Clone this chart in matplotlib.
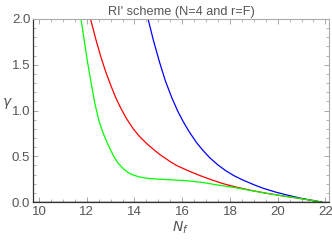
import numpy as np
import matplotlib
matplotlib.use("Agg")
import matplotlib.pyplot as plt
from matplotlib.ticker import MultipleLocator

# values
nf_green = [11.76, 11.9, 12.04, 12.2, 12.34, 12.5, 12.67, 12.83, 13.0, 13.11, 13.3, 13.53, 13.75, 13.95,
            14.2, 14.51, 15.0, 15.62, 16.2, 16.88, 17.5, 18.27, 18.9, 19.54, 20.2, 20.92, 21.4, 21.85]
g_green = [2.0, 1.76, 1.52, 1.28, 1.08, 0.9, 0.765, 0.665, 0.57, 0.51, 0.43, 0.365, 0.32, 0.295,
           0.275, 0.26, 0.25, 0.242, 0.233, 0.213, 0.186, 0.155, 0.125, 0.095, 0.068, 0.04, 0.02, 0.0]

nf_red = [12.16, 12.4, 12.6, 12.8, 13.0, 13.2, 13.4, 13.67, 13.95, 14.2, 14.51, 14.8, 15.06, 15.48,
          15.76, 16.3, 16.74, 17.15, 17.7, 18.27, 18.9, 19.54, 20.2, 20.92, 21.4, 21.85]
g_red = [2.0, 1.76, 1.58, 1.42, 1.28, 1.15, 1.04, 0.91, 0.8, 0.72, 0.64, 0.575, 0.52, 0.445,
         0.4, 0.337, 0.29, 0.25, 0.202, 0.163, 0.127, 0.096, 0.068, 0.04, 0.02, 0.0]

nf_blue = [14.57, 14.8, 15.06, 15.3, 15.55, 15.8, 16.04, 16.3, 16.6, 16.85, 17.15, 17.5, 17.85, 18.2,
           18.55, 19.0, 19.38, 19.9, 20.5, 20.92, 21.4, 21.85]
g_blue = [2.0, 1.76, 1.52, 1.32, 1.15, 1.0, 0.88, 0.765, 0.65, 0.57, 0.485, 0.405, 0.338, 0.284,
          0.24, 0.19, 0.152, 0.11, 0.07, 0.045, 0.02, 0.0]

plt.rcParams['font.family'] = ['Liberation Sans', 'DejaVu Sans']

fig = plt.figure(figsize=(3.32, 2.40), dpi=100)
ax = fig.add_axes([0.0994, 0.158, 0.8916, 0.763])

ax.plot(nf_blue, g_blue, color=(0, 0, 1), lw=0.9)
ax.plot(nf_red, g_red, color=(1, 0, 0), lw=0.9)
ax.plot(nf_green, g_green, color=(0, 1, 0), lw=0.9)
ax.axhline(0, color='black', lw=1.0, zorder=3)

ax.set_xlim(9.75, 22.15)
ax.set_ylim(0, 2.0)
ax.xaxis.set_major_locator(MultipleLocator(2))
ax.xaxis.set_minor_locator(MultipleLocator(0.5))
ax.yaxis.set_major_locator(MultipleLocator(0.5))
ax.yaxis.set_minor_locator(MultipleLocator(0.1))
ax.tick_params(which='both', direction='in', top=True, right=True, color='#999999',
               labelcolor='#555555', labelsize=9.5, pad=2)
ax.tick_params(which='major', length=3.5, width=0.6)
ax.tick_params(which='minor', length=2, width=0.5)
ax.tick_params(axis='x', pad=3)

for side in ['top', 'right']:
    ax.spines[side].set_color('#aaaaaa')
    ax.spines[side].set_linewidth(0.8)
for side in ['left', 'bottom']:
    ax.spines[side].set_color('#333333')
    ax.spines[side].set_linewidth(0.9)

ax.set_title("RI' scheme (N=4 and r=F)", fontsize=9.2, color='#555555', pad=3)
ax.set_xlabel('$N_f$', fontsize=10, color='#555555', labelpad=1)
ax.set_ylabel('$\\gamma$', fontsize=10, color='#555555', rotation=0, labelpad=2)
ax.yaxis.set_label_coords(-0.085, 0.5)

fig.savefig('out.png', dpi=100)
